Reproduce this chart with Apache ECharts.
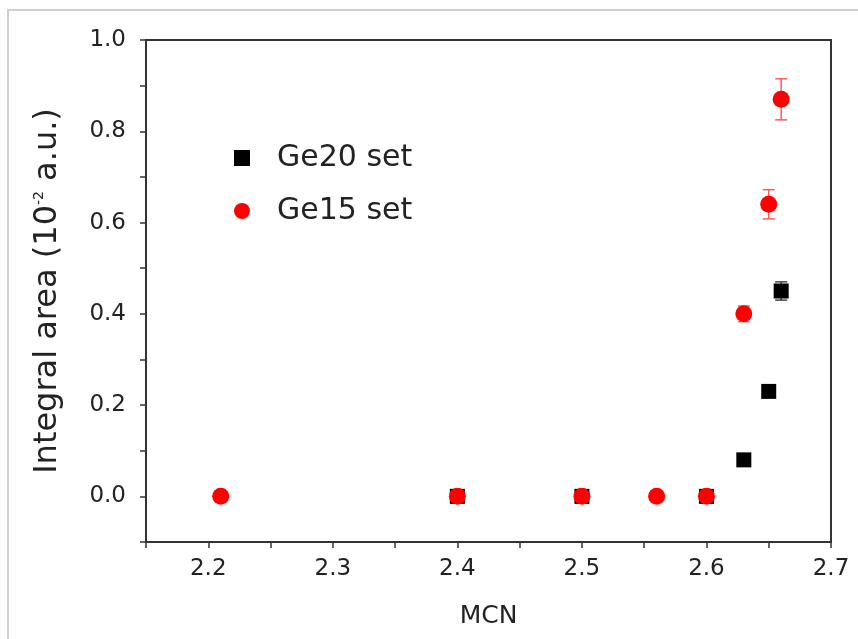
<!DOCTYPE html>
<html>
<head>
<meta charset="utf-8">
<script src="https://cdn.jsdelivr.net/npm/echarts@6/dist/echarts.min.js"></script>
<style>
  html, body { margin: 0; padding: 0; background: #fff; }
  #chart { width: 858px; height: 639px; }
</style>
</head>
<body>
<div id="chart"></div>
<script>
// data
let ge20X = [2.40, 2.50, 2.60, 2.63, 2.65, 2.66];
let ge20Y = [0, 0, 0, 0.08, 0.23, 0.45];
let ge20Err = [0, 0, 0, 0, 0, 0.02];

let ge15X = [2.21, 2.40, 2.50, 2.56, 2.60, 2.63, 2.65, 2.66];
let ge15Y = [0, 0, 0, 0, 0, 0.40, 0.64, 0.87];
let ge15Err = [0, 0, 0, 0, 0, 0.017, 0.032, 0.045];

let seriesNames = ["Ge20 set", "Ge15 set"];

let font = "DejaVu Sans";

function pairs(xs, ys) {
  return xs.map((x, i) => [x, ys[i]]);
}
function errData(xs, ys, es) {
  let out = [];
  xs.forEach((x, i) => {
    if (es[i] > 0) out.push([x, ys[i] - es[i], ys[i] + es[i]]);
  });
  return out;
}
function errRender(color) {
  return function (params, api) {
    let lo = api.coord([api.value(0), api.value(1)]);
    let hi = api.coord([api.value(0), api.value(2)]);
    let w = 6;
    let style = { stroke: color, lineWidth: 1.5 };
    return {
      type: "group",
      children: [
        { type: "line", shape: { x1: lo[0], y1: lo[1], x2: hi[0], y2: hi[1] }, style: style },
        { type: "line", shape: { x1: lo[0] - w, y1: lo[1], x2: lo[0] + w, y2: lo[1] }, style: style },
        { type: "line", shape: { x1: hi[0] - w, y1: hi[1], x2: hi[0] + w, y2: hi[1] }, style: style },
      ],
    };
  };
}

let dom = document.getElementById("chart");
let myChart = echarts.init(dom, null, { renderer: "canvas" });

let axisCol = "#333";
let textCol = "#222";

let option = {
  animation: false,
  backgroundColor: "#fff",
  graphic: [
    {
      type: "rect",
      shape: { x: 8, y: 10, width: 870, height: 660 },
      style: { fill: "none", stroke: "#cfcfcf", lineWidth: 2 },
      silent: true,
    },
  ],
  grid: {
    left: 146,
    right: 27,
    top: 40,
    bottom: 97,
    show: true,
    borderColor: axisCol,
    borderWidth: 2,
  },
  legend: {
    orient: "vertical",
    left: 229,
    top: 138,
    itemGap: 23,
    itemWidth: 16,
    itemHeight: 16,
    data: seriesNames,
    textStyle: {
      fontFamily: font,
      fontSize: 30,
      color: textCol,
      padding: [0, 0, 0, 22],
    },
  },
  xAxis: {
    type: "value",
    min: 2.15,
    max: 2.7,
    interval: 0.05,
    name: "MCN",
    nameLocation: "middle",
    nameGap: 62,
    nameTextStyle: { fontFamily: font, fontSize: 25, color: textCol },
    splitLine: { show: false },
    axisLine: { onZero: false, lineStyle: { color: axisCol, width: 2 } },
    axisTick: { inside: false, length: 6, lineStyle: { color: axisCol, width: 1.5 } },
    axisLabel: {
      fontFamily: font,
      fontSize: 23,
      color: textCol,
      margin: 16,
      formatter: function (v) {
        let k = Math.round(v * 100);
        return k % 10 === 0 ? (k / 100).toFixed(1) : "";
      },
    },
  },
  yAxis: {
    type: "value",
    min: -0.1,
    max: 1.0,
    interval: 0.1,
    name: "{a|Integral area (10}{s|-2}{a| a.u.)}",
    nameLocation: "middle",
    nameGap: 82,
    nameTextStyle: {
      rich: {
        a: { fontFamily: font, fontSize: 32, color: textCol },
        s: { fontFamily: font, fontSize: 14, color: textCol, verticalAlign: "top", padding: [0, 0, 16, 0] },
      },
    },
    splitLine: { show: false },
    axisLine: { onZero: false, lineStyle: { color: axisCol, width: 2 } },
    axisTick: { inside: false, length: 6, lineStyle: { color: axisCol, width: 1.5 } },
    axisLabel: {
      fontFamily: font,
      fontSize: 23,
      color: textCol,
      margin: 20,
      formatter: function (v) {
        let k = Math.round(v * 10);
        return k >= 0 && k % 2 === 0 ? (k / 10).toFixed(1) : "";
      },
    },
  },
  series: [
    {
      name: "ge20err",
      type: "custom",
      renderItem: errRender("#444"),
      data: errData(ge20X, ge20Y, ge20Err),
      z: 1,
    },
    {
      name: seriesNames[0],
      type: "scatter",
      symbol: "rect",
      symbolSize: 15,
      itemStyle: { color: "#000", opacity: 1 },
      data: pairs(ge20X, ge20Y),
      z: 2,
    },
    {
      name: "ge15err",
      type: "custom",
      renderItem: errRender("#ff5a5a"),
      data: errData(ge15X, ge15Y, ge15Err),
      z: 3,
    },
    {
      name: seriesNames[1],
      type: "scatter",
      symbol: "circle",
      symbolSize: 17,
      itemStyle: { color: "#ff0000", opacity: 1 },
      data: pairs(ge15X, ge15Y),
      z: 4,
    },
  ],
};

myChart.setOption(option);
window.addEventListener("resize", myChart.resize);
</script>
</body>
</html>
